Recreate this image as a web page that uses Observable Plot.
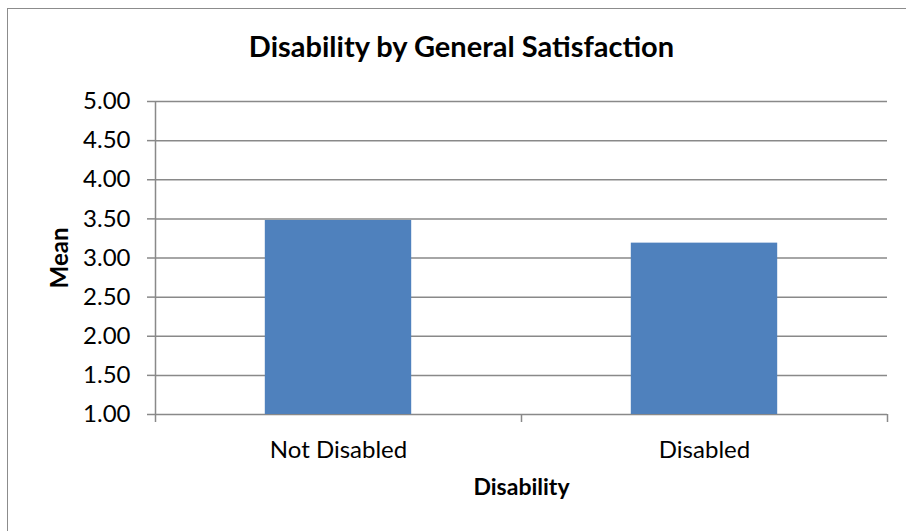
<!DOCTYPE html>
<html><head><meta charset="utf-8">
<script src="https://cdn.jsdelivr.net/npm/d3@7"></script>
<script src="https://cdn.jsdelivr.net/npm/@observablehq/plot@0.6"></script>
<style>
body{margin:0;background:#fff;}
#wrap{position:relative;width:906px;height:531px;overflow:hidden;background:#fff;font-family:Lato,'Open Sans',sans-serif;}
#frame{position:absolute;left:7px;top:8px;width:1000px;height:1000px;border:1px solid #8c8c8c;box-sizing:border-box;}
#title{position:absolute;left:0;top:28px;width:923px;text-align:center;font-weight:bold;font-size:29px;color:#000;line-height:normal;white-space:nowrap;}
#chart{position:absolute;left:0;top:60px;}
</style>
</head><body>
<div id="wrap">
<div id="frame"></div>
<div id="title"></div>
<div id="chart"></div>
</div>
<script>
const categories = ["Not Disabled", "Disabled"];
const means = [3.48, 3.19];
const yTicks = [1.0, 1.5, 2.0, 2.5, 3.0, 3.5, 4.0, 4.5, 5.0];
const titleText = "Disability by General Satisfaction";
const xLabel = "Disability";
const yLabel = "Mean";

const data = categories.map((c, i) => ({category: c, index: i, mean: means[i]}));
const boundaries = d3.range(categories.length + 1);
const centers = categories.map((c, i) => i + 0.5);
const gray = "#898989";
const font = "Lato, 'Open Sans', sans-serif";

const chart = Plot.plot({
  width: 906,
  height: 471,
  marginTop: 41,
  marginBottom: 117,
  marginLeft: 155,
  marginRight: 19,
  style: {fontFamily: font, background: "transparent", color: "#000", overflow: "visible"},
  x: {type: "linear", domain: [0, categories.length]},
  y: {domain: [1, 5]},
  marks: [
    Plot.ruleY(yTicks, {stroke: gray, strokeWidth: 1.5}),
    Plot.rectY(data, {x1: d => d.index + 0.3, x2: d => d.index + 0.7, y1: 1, y2: "mean", fill: "#4F81BD"}),
    Plot.ruleX([0], {y1: 1, y2: 5, stroke: gray, strokeWidth: 1.5}),
    Plot.axisY(yTicks, {tickFormat: d3.format(".2f"), tickSize: 8, tickPadding: 17, fontSize: 24, stroke: gray, strokeWidth: 1.5, fill: "#000", label: null}),
    Plot.axisX(boundaries, {tickFormat: () => "", tickSize: 8, stroke: gray, strokeWidth: 1.5, label: null}),
    Plot.axisX(centers, {tickFormat: (d, i) => categories[i], tickSize: 0, tickPadding: 26, fontSize: 24, fill: "#000", label: null}),
    Plot.text([xLabel], {frameAnchor: "bottom", dy: 80, fontWeight: "bold", fontSize: 23, fill: "#000"}),
    Plot.text([yLabel], {frameAnchor: "left", dx: -95, rotate: -90, textAnchor: "middle", fontWeight: "bold", fontSize: 24, fill: "#000"})
  ]
});
document.getElementById("chart").appendChild(chart);
document.getElementById("title").textContent = titleText;
</script>
</body></html>
